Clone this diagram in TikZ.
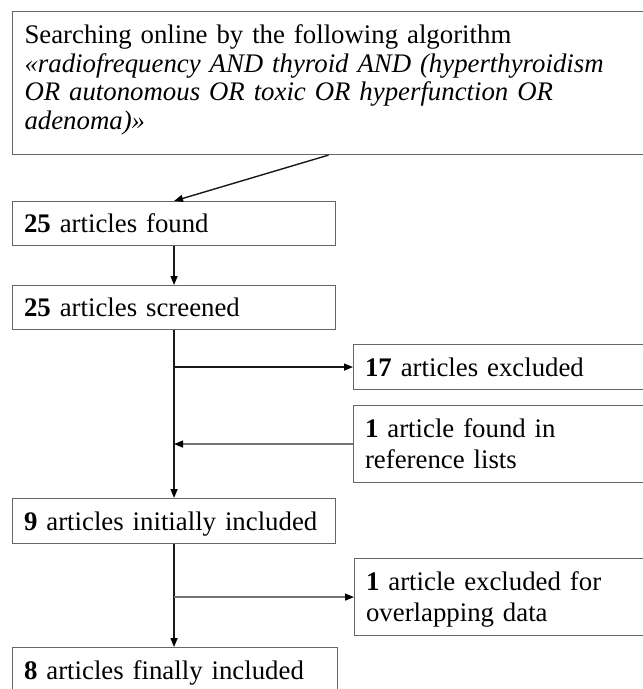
\documentclass[tikz,border=0pt]{standalone}
\usepackage{fontspec}
\setmainfont{Liberation Serif}
\usetikzlibrary{arrows.meta,calc}
\begin{document}
\begin{tikzpicture}[x=1pt,y=-1pt,
  box/.style={draw=black!60, line width=1.1pt, anchor=north west,
    inner xsep=11.5pt, inner ysep=0pt, align=left,
    font=\fontsize{26.8}{31}\selectfont},
  one/.style={text height=22pt, text depth=4pt},
  two/.style={text height=22pt, text depth=35pt},
  conn/.style={draw=black!90, line width=1.4pt, -{Triangle[length=9pt,width=7pt,color=black]}},
  sideconn/.style={draw=black!55, line width=1.2pt, -{Triangle[length=9pt,width=7pt,color=black]}}]
\useasboundingbox (0,0) rectangle (643,689);
\fill[white] (0,0) rectangle (643,689);
\clip (0,0) rectangle (643,689);

\node[box, inner xsep=12pt, text width=608pt, minimum height=143pt,
  text height=22pt, text depth=101pt,
  font=\fontsize{26.8}{28.5}\selectfont] (top) at (12,11)
  {Searching online by the following algorithm\\
   \textit{«radiofrequency AND thyroid AND (hyperthyroidism}\\
   \textit{OR autonomous OR toxic OR hyperfunction OR}\\
   \textit{adenoma)»}};

\node[box, one, text width=300pt, minimum height=44pt] (found) at (12,201)
  {\textbf{25} articles found};
\node[box, one, text width=300pt, minimum height=44pt] (screened) at (12,285)
  {\textbf{25} articles screened};
\node[box, one, text width=272pt, minimum height=45pt] (excl) at (353,344)
  {\textbf{17} articles excluded};
\node[box, two, text width=272pt, minimum height=77pt] (ref) at (353,405)
  {\textbf{1} article found in\\reference lists};
\node[box, one, text width=300pt, minimum height=45pt] (nine) at (12,498)
  {\textbf{9} articles initially included};
\node[box, two, text width=271pt, minimum height=77pt] (overlap) at (354,558)
  {\textbf{1} article excluded for\\overlapping data};
\node[box, one, text width=302pt, minimum height=45pt] (eight) at (12,647)
  {\textbf{8} articles finally included};

\draw[conn] (top.south) -- (found.north);
\draw[conn] (found.south) -- (screened.north);
\draw[conn] (screened.south) -- (nine.north);
\draw[conn] (screened.south |- excl.west) -- (excl.west);
\draw[sideconn] (ref.west) -- (screened.south |- ref.west);
\draw[conn] (nine.south) -- (nine.south |- eight.north);
\draw[sideconn] (nine.south |- overlap.west) -- (overlap.west);
\end{tikzpicture}
\end{document}
